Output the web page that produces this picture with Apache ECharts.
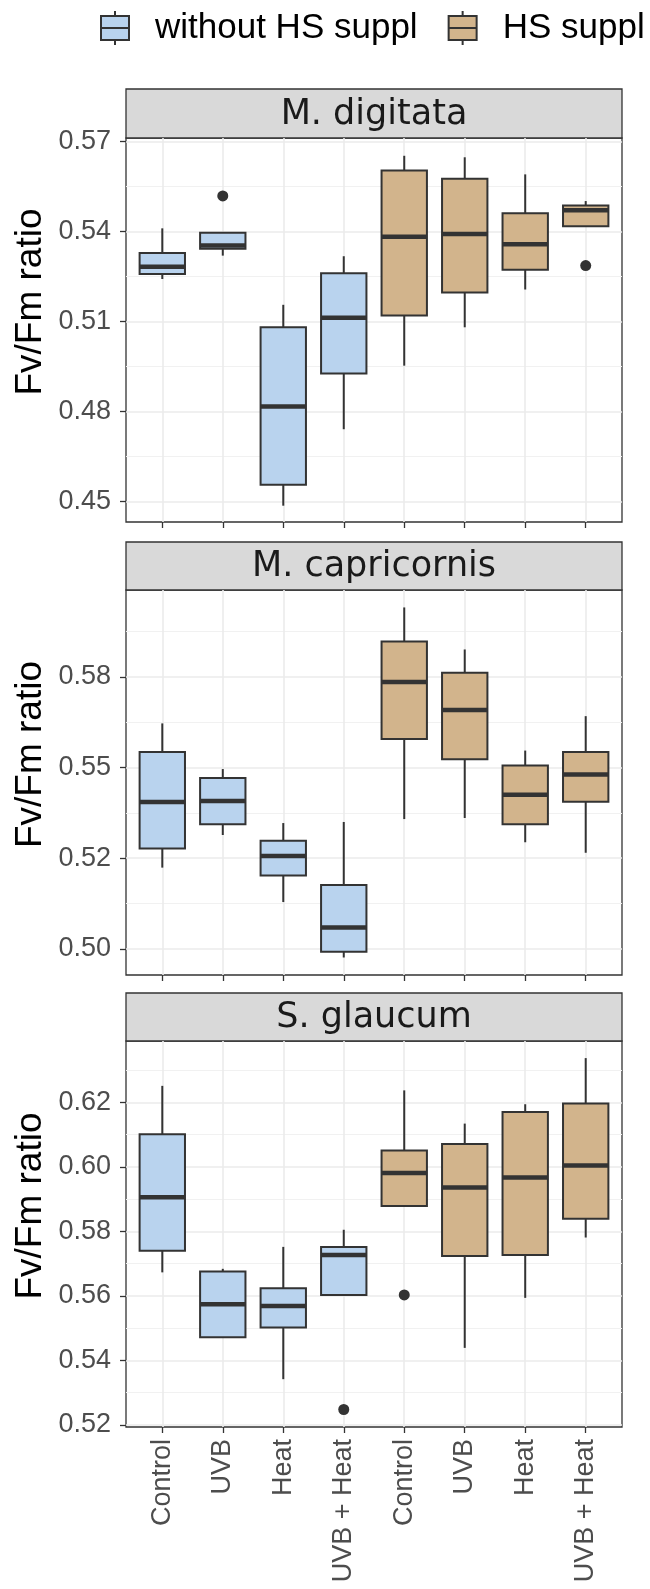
<!DOCTYPE html>
<html>
<head>
<meta charset="utf-8">
<script src="https://cdn.jsdelivr.net/npm/echarts@6/dist/echarts.min.js"></script>
<style>html,body{margin:0;padding:0;background:#fff}#c{width:650px;height:1589px}</style>
</head>
<body>
<div id="c"></div>
<script>
// ---------------- data ----------------
const categories = ['Control', 'UVB', 'Heat', 'UVB + Heat', 'Control', 'UVB', 'Heat', 'UVB + Heat'];
const seriesNames = ['without HS suppl', 'HS suppl'];
const panelTitles = ['M. digitata', 'M. capricornis', 'S. glaucum'];

// each row: [lower whisker, Q1, median, Q3, upper whisker]
const digitataWithout = [
  [0.5242, 0.5259, 0.5283, 0.5329, 0.5411],
  [0.5320, 0.5343, 0.5354, 0.5396, 0.5396],
  [0.4486, 0.4556, 0.4817, 0.5081, 0.5156],
  [0.4741, 0.4927, 0.5113, 0.5261, 0.5318]
];
const digitataHS = [
  [0.4953, 0.5120, 0.5383, 0.5604, 0.5653],
  [0.5081, 0.5197, 0.5392, 0.5576, 0.5648],
  [0.5207, 0.5273, 0.5358, 0.5461, 0.5591],
  [0.5418, 0.5418, 0.5471, 0.5487, 0.5502]
];
const digitataOutliers = [[1, 0.5519], [7, 0.5287]];

const capricornisWithout = [
  [0.5224, 0.5277, 0.5405, 0.5543, 0.5622],
  [0.5314, 0.5344, 0.5408, 0.5471, 0.5496],
  [0.5129, 0.5202, 0.5256, 0.5298, 0.5347],
  [0.4976, 0.4992, 0.5059, 0.5176, 0.5350]
];
const capricornisHS = [
  [0.5358, 0.5579, 0.5736, 0.5848, 0.5942],
  [0.5361, 0.5523, 0.5659, 0.5762, 0.5826],
  [0.5294, 0.5344, 0.5425, 0.5506, 0.5547],
  [0.5265, 0.5406, 0.5481, 0.5543, 0.5642]
];
const capricornisOutliers = [];

const glaucumWithout = [
  [0.5673, 0.5740, 0.5906, 0.6101, 0.6251],
  [0.5472, 0.5472, 0.5574, 0.5676, 0.5684],
  [0.5342, 0.5502, 0.5569, 0.5624, 0.5752],
  [0.5603, 0.5603, 0.5727, 0.5752, 0.5805]
];
const glaucumHS = [
  [0.5879, 0.5879, 0.5981, 0.6051, 0.6237],
  [0.5439, 0.5724, 0.5936, 0.6071, 0.6134],
  [0.5594, 0.5727, 0.5967, 0.6170, 0.6194],
  [0.5781, 0.5839, 0.6004, 0.6196, 0.6337]
];
const glaucumOutliers = [[3, 0.5248], [4, 0.5603]];

// tick values and their printed labels
const digitataTicks = [0.45, 0.48, 0.51, 0.54, 0.57];
const digitataTickLabels = ['0.45', '0.48', '0.51', '0.54', '0.57'];
const digitataMinor = [0.465, 0.495, 0.525, 0.555];
const capricornisTicks = [0.5, 0.525, 0.55, 0.575];
const capricornisTickLabels = ['0.50', '0.52', '0.55', '0.58'];
const capricornisMinor = [0.5125, 0.5375, 0.5625, 0.5875];
const glaucumTicks = [0.52, 0.54, 0.56, 0.58, 0.60, 0.62];
const glaucumTickLabels = ['0.52', '0.54', '0.56', '0.58', '0.60', '0.62'];
const glaucumMinor = [0.53, 0.55, 0.57, 0.59, 0.61, 0.63];

// ---------------- layout / style ----------------
const COLORS = ['#b9d3ee', '#d2b48c'];
const INK = '#333333';
const FONT = '"Liberation Sans", Arial, sans-serif';
const LEFT = 126, RIGHT = 622;
const UNIT = (RIGHT - LEFT) / 8.2;
const BOX_FRACTION = 0.75;
const panels = [
  {stripTop: 89,  plotTop: 138,  plotBottom: 522,  range: [0.44316, 0.57123],
   without: digitataWithout, hs: digitataHS, outliers: digitataOutliers,
   ticks: digitataTicks, labels: digitataTickLabels, minor: digitataMinor},
  {stripTop: 542, plotTop: 590,  plotBottom: 975,  range: [0.49277, 0.59901],
   without: capricornisWithout, hs: capricornisHS, outliers: capricornisOutliers,
   ticks: capricornisTicks, labels: capricornisTickLabels, minor: capricornisMinor},
  {stripTop: 993, plotTop: 1041, plotBottom: 1427, range: [0.51938, 0.63900],
   without: glaucumWithout, hs: glaucumHS, outliers: glaucumOutliers,
   ticks: glaucumTicks, labels: glaucumTickLabels, minor: glaucumMinor}
];

function renderBox(params, api) {
  const x = api.value(0);
  const pMin = api.coord([x, api.value(1)]);
  const pQ1 = api.coord([x, api.value(2)]);
  const pMed = api.coord([x, api.value(3)]);
  const pQ3 = api.coord([x, api.value(4)]);
  const pMax = api.coord([x, api.value(5)]);
  const w = api.size([1, 0])[0] * BOX_FRACTION;
  const cx = pMed[0];
  const fill = api.visual('color');
  const line = {stroke: INK, lineWidth: 2};
  return {
    type: 'group',
    children: [
      {type: 'line', shape: {x1: cx, y1: pMin[1], x2: cx, y2: pQ1[1]}, style: line},
      {type: 'line', shape: {x1: cx, y1: pQ3[1], x2: cx, y2: pMax[1]}, style: line},
      {type: 'rect', shape: {x: cx - w / 2, y: pQ3[1], width: w, height: pQ1[1] - pQ3[1]},
        style: {fill: fill, stroke: INK, lineWidth: 2}},
      {type: 'line', shape: {x1: cx - w / 2, y1: pMed[1], x2: cx + w / 2, y2: pMed[1]},
        style: {stroke: INK, lineWidth: 4.5}}
    ]
  };
}

const grid = [], xAxis = [], yAxis = [], series = [], graphic = [];
panels.forEach(function (P, p) {
  const h = P.plotBottom - P.plotTop;
  grid.push({left: LEFT, top: P.plotTop, width: RIGHT - LEFT, height: h,
    show: true, borderColor: INK, borderWidth: 1.3, backgroundColor: 'transparent',
    containLabel: false, outerBoundsMode: 'none'});
  grid.push({left: LEFT + 0.6 * UNIT, top: P.plotTop, width: (RIGHT - LEFT) - 1.2 * UNIT, height: h,
    show: false, containLabel: false, outerBoundsMode: 'none'});

  xAxis.push({type: 'value', gridIndex: 2 * p, show: false, min: 0, max: 1});
  xAxis.push({type: 'category', gridIndex: 2 * p + 1, data: categories, boundaryGap: false,
    axisLine: {show: false, onZero: false},
    axisTick: {show: true, length: 6, interval: 0, lineStyle: {color: INK, width: 1.3}},
    axisLabel: {show: p === 2, interval: 0, rotate: 90, fontSize: 27, fontFamily: FONT,
      color: '#4d4d4d', margin: 12},
    splitLine: {show: true, interval: 0, lineStyle: {color: '#ebebeb', width: 1.6}}});

  const ticks = P.ticks, labels = P.labels;
  yAxis.push({type: 'value', gridIndex: 2 * p, min: P.range[0], max: P.range[1], position: 'left',
    axisLine: {show: false, onZero: false},
    axisTick: {show: true, length: 6, customValues: ticks, lineStyle: {color: INK, width: 1.3}},
    axisLabel: {show: true, customValues: ticks, fontSize: 27, fontFamily: FONT, color: '#4d4d4d', margin: 15,
      formatter: function (v) {
        const i = ticks.findIndex(function (t) { return Math.abs(t - v) < 1e-7; });
        return i >= 0 ? labels[i] : '';
      }},
    splitLine: {show: true, lineStyle: {color: '#ebebeb', width: 1.6}},
    name: 'Fv/Fm ratio', nameLocation: 'middle', nameGap: 77, nameRotate: 90, nameMoveOverlap: false,
    nameTextStyle: {fontSize: 37, fontFamily: FONT, color: '#000', padding: [0, 0, 0, 56]}});
  yAxis.push({type: 'value', gridIndex: 2 * p, min: P.range[0], max: P.range[1], position: 'left',
    axisLine: {show: false, onZero: false},
    axisTick: {show: false, customValues: P.minor},
    axisLabel: {show: false, customValues: P.minor},
    splitLine: {show: true, lineStyle: {color: '#f1f1f1', width: 1}}});
  yAxis.push({type: 'value', gridIndex: 2 * p + 1, min: P.range[0], max: P.range[1], show: false});

  const xi = 2 * p + 1, yi = 3 * p + 2;
  series.push({name: seriesNames[0], type: 'custom', xAxisIndex: xi, yAxisIndex: yi,
    itemStyle: {color: COLORS[0]}, renderItem: renderBox, encode: {x: 0, y: [1, 2, 3, 4, 5]},
    data: P.without.map(function (r, i) { return [i].concat(r); }), silent: true});
  series.push({name: seriesNames[1], type: 'custom', xAxisIndex: xi, yAxisIndex: yi,
    itemStyle: {color: COLORS[1]}, renderItem: renderBox, encode: {x: 0, y: [1, 2, 3, 4, 5]},
    data: P.hs.map(function (r, i) { return [i + 4].concat(r); }), silent: true});
  series.push({name: 'outliers', type: 'scatter', xAxisIndex: xi, yAxisIndex: yi,
    symbol: 'circle', symbolSize: 11, itemStyle: {color: INK, opacity: 1}, data: P.outliers, silent: true, z: 5});

  graphic.push({type: 'rect', silent: true,
    shape: {x: LEFT, y: P.stripTop, width: RIGHT - LEFT, height: P.plotTop - P.stripTop},
    style: {fill: '#d9d9d9', stroke: INK, lineWidth: 1.3}});
  graphic.push({type: 'text', silent: true, x: (LEFT + RIGHT) / 2, y: (P.stripTop + P.plotTop) / 2 + 1,
    style: {text: panelTitles[p], fill: '#1a1a1a', fontSize: 35, fontFamily: '"DejaVu Sans", sans-serif',
      align: 'center', verticalAlign: 'middle', textAlign: 'center', textVerticalAlign: 'middle'}});
});

const KEY_PATH = 'path://M15,0L15,5M1,5L29,5L29,29L1,29ZM1,17L29,17M15,29L15,34';

const option = {
  animation: false,
  backgroundColor: '#fff',
  legend: {
    orient: 'horizontal', left: 100, top: 10, width: 600, padding: 0,
    itemWidth: 30, itemHeight: 34, itemGap: 30, selectedMode: false,
    data: seriesNames.map(function (n, i) {
      return {name: n, icon: KEY_PATH, itemStyle: {color: COLORS[i], borderColor: INK, borderWidth: 2}};
    }),
    textStyle: {fontFamily: FONT, fontSize: 35, color: '#000', padding: [0, 0, 0, 20]}
  },
  grid: grid, xAxis: xAxis, yAxis: yAxis, series: series, graphic: graphic
};

const chart = echarts.init(document.getElementById('c'), null, {renderer: 'canvas'});
chart.setOption(option);
</script>
</body>
</html>
